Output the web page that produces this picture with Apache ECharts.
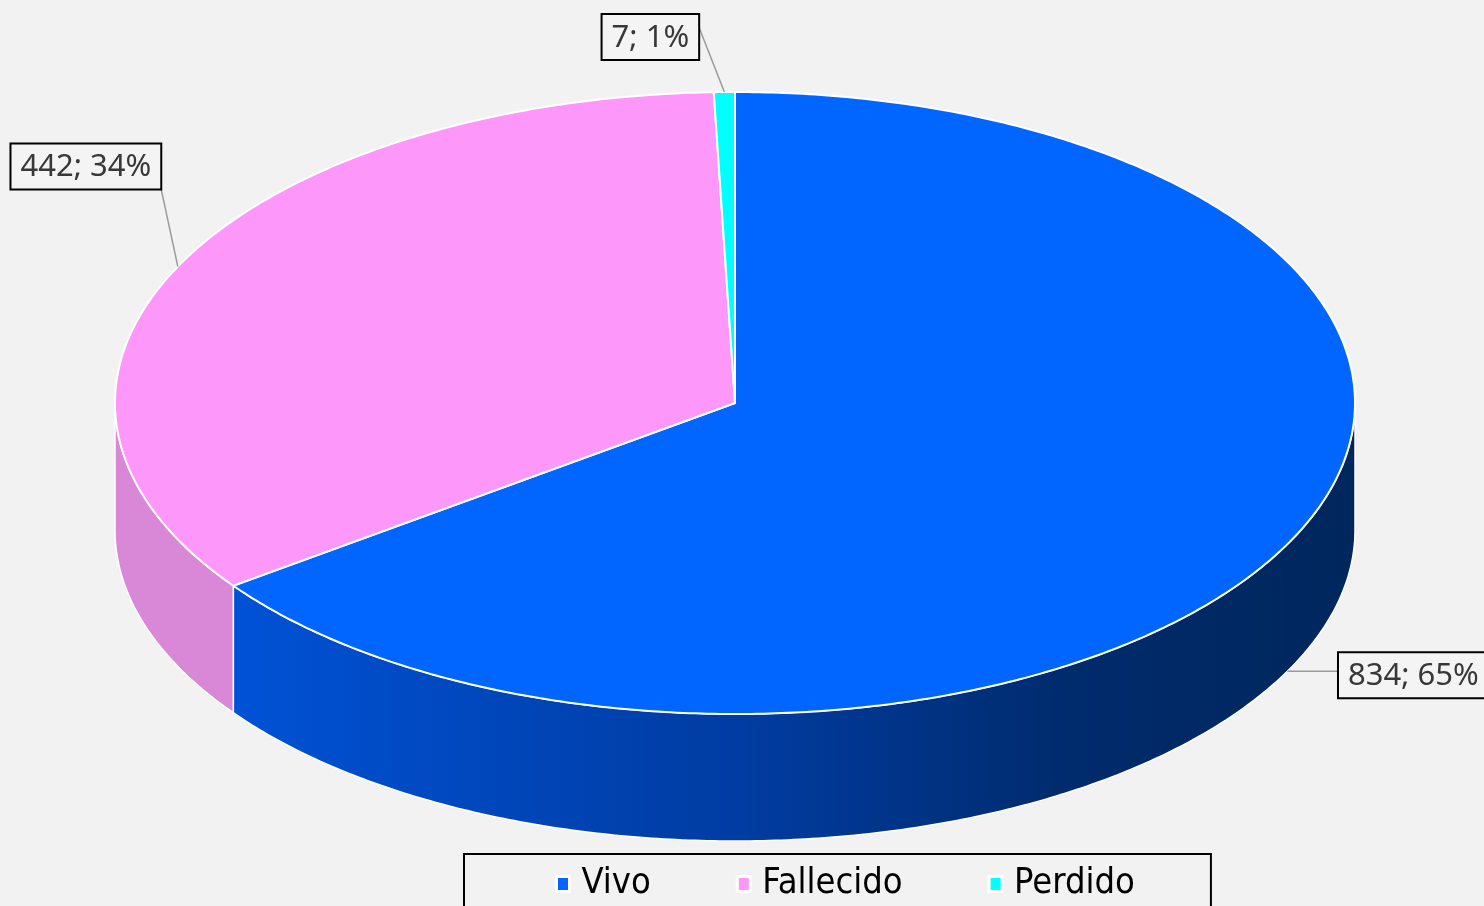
<!DOCTYPE html>
<html>
<head>
<meta charset="utf-8">
<script src="https://cdn.jsdelivr.net/npm/echarts@6/dist/echarts.min.js"></script>
<style>
html,body{margin:0;padding:0;background:#f2f2f3}
#main{width:1484px;height:906px}
</style>
</head>
<body>
<div id="main"></div>
<script>
// datos
var categories = ['Vivo', 'Fallecido', 'Perdido'];
var values = [834, 442, 7];
var topColors = ['#0066ff', '#fd97f9', '#00ffff'];
var sideColors = ['#0050d2', '#d888d6', '#00c8c8'];

var total = 0;
for (var i = 0; i < values.length; i++) total += values[i];
var starts = [], sweeps = [];
var acc = 0;
for (var i = 0; i < values.length; i++) {
	starts.push(acc / total * Math.PI * 2);
	sweeps.push(values[i] / total * Math.PI * 2);
	acc += values[i];
}

// geometria de la elipse (pastel 3D)
var cx = 735, cy = 403, rx = 620, ry = 311, depth = 127;
// desplazamiento de cada etiqueta respecto al punto de anclaje
var labelOffsets = [[126, 4], [-92, -100], [-74, -55]];
var labelFont = '31px "Noto Sans", sans-serif';

function pt(t, dz) {
	return [cx + rx * Math.sin(t), cy - ry * Math.cos(t) + (dz || 0)];
}
function arc(a, b, dz) {
	var pts = [];
	var n = Math.max(2, Math.ceil((b - a) / 0.01));
	for (var k = 0; k <= n; k++) pts.push(pt(a + (b - a) * k / n, dz));
	return pts;
}

var ctx = document.createElement('canvas').getContext('2d');
ctx.font = labelFont;

function makeRender(idx) {
	return function (params, api) {
		var t1 = starts[idx], t2 = starts[idx] + sweeps[idx];
		var children = [];
		// lateral
		var a = Math.max(t1, Math.PI / 2), b = Math.min(t2, Math.PI * 1.5);
		if (b > a) {
			var side = arc(a, b, 0).concat(arc(a, b, depth).reverse());
			var fill = sideColors[idx];
			if (idx === 0) {
				fill = new echarts.graphic.LinearGradient(0, 0, 1, 0, [
					{offset: 0, color: '#0052d6'},
					{offset: 0.45, color: '#003ca2'},
					{offset: 0.75, color: '#002b6c'},
					{offset: 1, color: '#00275c'}
				]);
			}
			children.push({
				type: 'polygon', z2: 1,
				shape: {points: side},
				style: {fill: fill, stroke: '#ffffff', lineWidth: 1.5}
			});
		}
		// cara superior
		var topPts = [[cx, cy]].concat(arc(t1, t2, 0));
		children.push({
			type: 'polygon', z2: 10,
			shape: {points: topPts},
			style: {fill: topColors[idx], stroke: '#ffffff', lineWidth: 2}
		});
		// etiqueta
		var mid = (t1 + t2) / 2;
		var anchor = pt(mid, Math.cos(mid) < 0 ? depth : 0);
		var pct = Math.round(values[idx] / total * 100);
		var txt = values[idx] + '; ' + pct + '%';
		var w = ctx.measureText(txt).width + 20, h = 46;
		var bx = anchor[0] + labelOffsets[idx][0], by = anchor[1] + labelOffsets[idx][1];
		var x0 = bx - w / 2, y0 = by - h / 2;
		var ex = Math.min(Math.max(anchor[0], x0), x0 + w);
		var ey = Math.min(Math.max(anchor[1], y0), y0 + h);
		if (ex === x0 + w && ey === y0 + h && anchor[1] - ey < 40) ey = y0 + h * 0.3;
		children.push({
			type: 'line', z2: 20,
			shape: {x1: anchor[0], y1: anchor[1], x2: ex, y2: ey},
			style: {stroke: '#9a9a9a', lineWidth: 1.5}
		});
		children.push({
			type: 'rect', z2: 21,
			shape: {x: x0, y: y0, width: w, height: h},
			style: {fill: '#f4f4f4', stroke: '#000000', lineWidth: 2}
		});
		children.push({
			type: 'text', z2: 22,
			style: {
				text: txt, x: bx, y: by + 1, align: 'center', verticalAlign: 'middle',
				font: labelFont, fill: '#383838'
			}
		});
		return {type: 'group', children: children};
	};
}

var series = [];
for (var i = 0; i < categories.length; i++) {
	series.push({
		name: categories[i],
		type: 'custom',
		coordinateSystem: 'none',
		itemStyle: {color: topColors[i]},
		renderItem: makeRender(i),
		data: [[values[i]]],
		silent: true
	});
}

var myChart = echarts.init(document.getElementById('main'));
var option = {
	backgroundColor: '#f2f2f3',
	animation: false,
	legend: {
		data: categories,
		left: 464,
		top: 854,
		icon: 'rect',
		itemWidth: 13,
		itemHeight: 15,
		itemGap: 85,
		selectedMode: false,
		borderColor: '#000000',
		borderWidth: 2,
		padding: [12, 76, 40, 91],
		itemStyle: {borderColor: '#ffffff', borderWidth: 3},
		textStyle: {
			fontFamily: '"Liberation Sans Narrow", "DejaVu Sans Condensed", sans-serif',
			fontSize: 36,
			color: '#000000',
			padding: [0, 0, 0, 7]
		}
	},
	series: series
};
myChart.setOption(option);
</script>
</body>
</html>
